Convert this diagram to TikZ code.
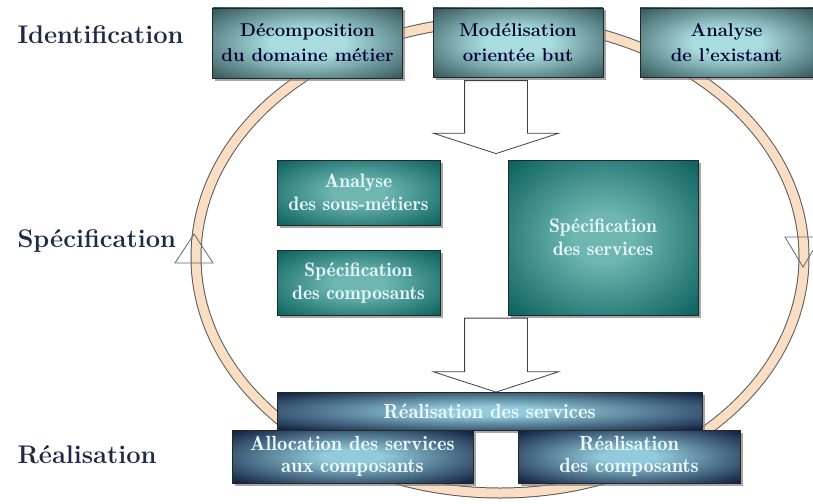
\documentclass[tikz,border=0pt]{standalone}
\usetikzlibrary{positioning, shapes.arrows, shadows}
\definecolor{idedge}{RGB}{30,62,66}
\definecolor{idglow}{RGB}{168,220,222}
\definecolor{spedge}{RGB}{14,100,98}
\definecolor{spglow}{RGB}{110,182,176}
\definecolor{reedge}{RGB}{10,24,58}
\definecolor{reglow}{RGB}{146,204,220}
\definecolor{ringfill}{RGB}{250,222,196}
\definecolor{phasetxt}{RGB}{28,42,70}
\pgfdeclareradialshading{idshade}{\pgfpointorigin}{color(0bp)=(idglow); color(10bp)=(idglow); color(40bp)=(idedge); color(72bp)=(idedge)}
\pgfdeclareradialshading{spshade}{\pgfpointorigin}{color(0bp)=(spglow); color(8bp)=(spglow); color(34bp)=(spedge); color(72bp)=(spedge)}
\pgfdeclareradialshading{reshade}{\pgfpointorigin}{color(0bp)=(reglow); color(6bp)=(reglow); color(36bp)=(reedge); color(72bp)=(reedge)}

\begin{document}
\begin{tikzpicture}[x=1pt, y=-1pt,
    phase/.style={anchor=base west, text=phasetxt, font=\fontsize{25.5}{30}\selectfont\bfseries},
    box/.style={draw=black!85, line width=0.8pt, shade, align=center, inner sep=0pt,
      drop shadow={shadow xshift=2.5pt, shadow yshift=-2.5pt, opacity=.7}},
    idbox/.style={box, shading=idshade, text=black!80!blue, font=\fontsize{18.5}{25}\selectfont\bfseries},
    spbox/.style={box, shading=spshade, text=cyan!10, font=\fontsize{19.5}{23}\fontseries{b}\selectfont},
    rebox/.style={box, shading=reshade, text=cyan!8, font=\fontsize{20.5}{22}\fontseries{b}\selectfont},
    flow/.style={single arrow, draw=black!75, fill=white, line width=0.8pt, rotate=-90,
      inner sep=31pt, single arrow head extend=31pt, single arrow tip angle=144},
    ringmark/.style={draw=black!60, line width=0.8pt}
  ]
    \useasboundingbox (0,0) rectangle (813,503);

    % cycle
    \draw[black!65, line width=11pt] (500,257) ellipse [x radius=304, y radius=236];
    \draw[ringfill, line width=9pt] (500,257) ellipse [x radius=304, y radius=236];
    \draw[ringmark] (175,263) -- (194,234) -- (213,263) -- cycle;
    \draw[ringmark] (785,237) -- (803,267) -- (821,237) -- cycle;

    % phases
    \node[phase] (ident) at (14,44) {Identification};
    \node[phase] (spec) at (14,247) {Spécification};
    \node[phase] (real) at (14,463) {Réalisation};

    % identification
    \node[idbox, minimum width=190, minimum height=70] (decomp) at (307.5,43) {Décomposition\\du domaine métier};
    \node[idbox, minimum width=170, minimum height=69] (model) at (518,42.5) {Modélisation\\orientée but};
    \node[idbox, minimum width=173, minimum height=69] (exist) at (726.5,42.5) {Analyse\\de l’existant};

    % specification
    \node[spbox, minimum width=163, minimum height=65] (sousmet) at (358.5,192.5) {Analyse\\des sous-métiers};
    \node[spbox, minimum width=163, minimum height=65, below=25pt of sousmet] (speccomp) {Spécification\\des composants};
    \node[spbox, minimum width=190, minimum height=155] (specserv) at (603,237.5) {Spécification\\des services};

    % realisation
    \node[rebox, minimum width=425, minimum height=38] (realserv) at (489.5,411) {Réalisation des services};
    \node[rebox, minimum width=241, minimum height=53] (alloc) at (352.5,456.5) {Allocation des services\\aux composants};
    \node[rebox, minimum width=222, minimum height=53] (realcomp) at (629,456.5) {Réalisation\\des composants};

    \node[flow, minimum height=73] (flowa) at (496,112) {};
    \node[flow, minimum height=74] (flowb) at (496,350) {};
  \end{tikzpicture}
\end{document}
